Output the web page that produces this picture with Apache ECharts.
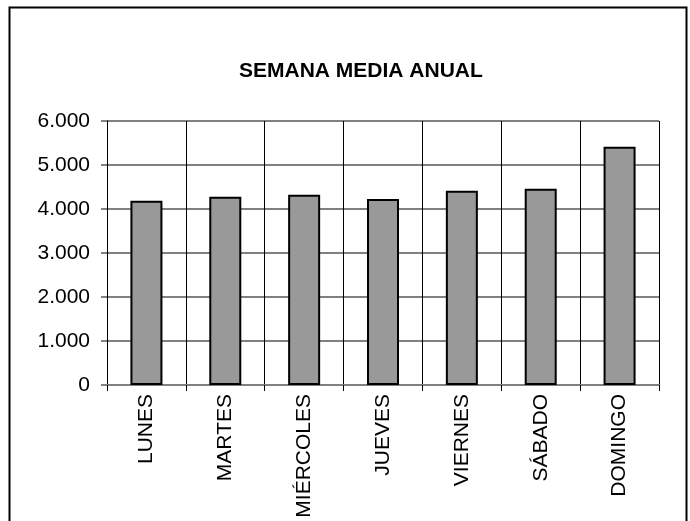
<!DOCTYPE html>
<html>
<head>
<meta charset="utf-8">
<script src="https://cdn.jsdelivr.net/npm/echarts@6/dist/echarts.min.js"></script>
<style>
  html, body { margin: 0; padding: 0; background: #fff; }
  #chart { width: 690px; height: 521px; }
</style>
</head>
<body>
<div id="chart"></div>
<script>
  // datos
  const dias = ['LUNES', 'MARTES', 'MIÉRCOLES', 'JUEVES', 'VIERNES', 'SÁBADO', 'DOMINGO'];
  const media = [4190, 4280, 4325, 4230, 4415, 4460, 5415];
  const yTicks = { min: 0, max: 6000, interval: 1000 };

  function miles(v) {
    return String(v).replace(/\B(?=(\d{3})+(?!\d))/g, '.');
  }

  const myChart = echarts.init(document.getElementById('chart'));
  const font = '"Liberation Sans", Arial, sans-serif';
  const option = {
    backgroundColor: '#fff',
    animation: false,
    title: {
      text: 'SEMANA MEDIA ANUAL',
      left: 234,
      top: 56,
      textStyle: { fontFamily: font, fontSize: 21, fontWeight: 'bold', color: '#000' }
    },
    graphic: [{
      type: 'rect',
      left: 7, top: 5,
      shape: { width: 677, height: 540 },
      style: { fill: 'none', stroke: '#000', lineWidth: 2 },
      silent: true
    }],
    grid: { left: 107, right: 31, top: 121, bottom: 136 },
    xAxis: {
      type: 'category',
      data: dias,
      axisLine: { lineStyle: { color: '#808080', width: 2 } },
      axisTick: { show: true, length: 6, lineStyle: { color: '#000' } },
      splitLine: { show: true, lineStyle: { color: '#000', width: 1 } },
      axisLabel: { rotate: 90, margin: 9, fontFamily: font, fontSize: 21, color: '#000', interval: 0 }
    },
    yAxis: {
      type: 'value',
      min: yTicks.min,
      max: yTicks.max,
      interval: yTicks.interval,
      axisLine: { show: true, lineStyle: { color: '#000', width: 1 } },
      axisTick: { show: true, length: 6, lineStyle: { color: '#808080', width: 2 } },
      splitLine: { show: true, lineStyle: { color: '#808080', width: 2 } },
      axisLabel: { margin: 17, fontFamily: font, fontSize: 21, color: '#000', formatter: miles }
    },
    series: [{
      type: 'bar',
      data: media,
      barWidth: 32,
      itemStyle: { color: '#999999', borderColor: '#000', borderWidth: 2 }
    }]
  };
  myChart.setOption(option);
</script>
</body>
</html>
